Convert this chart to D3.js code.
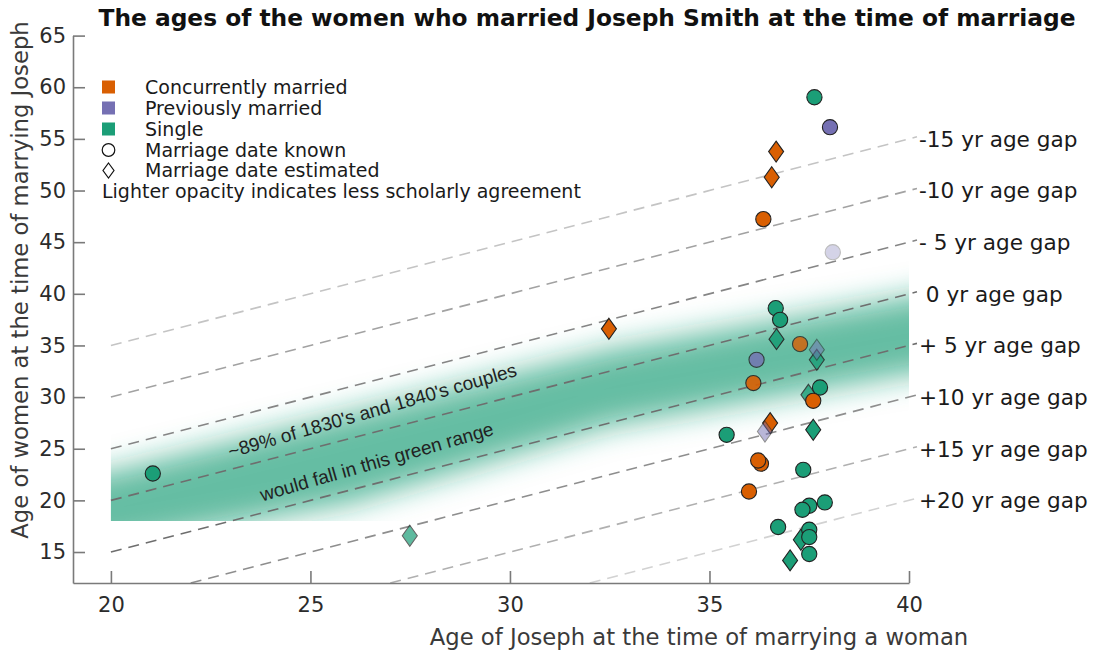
<!DOCTYPE html>
<html>
<head>
<meta charset="utf-8">
<script src="https://cdn.jsdelivr.net/npm/d3@7"></script>
<style>
  html, body { margin: 0; padding: 0; background: #fff; }
  svg { display: block; }
</style>
</head>
<body>
<svg id="chart" width="1094" height="658"></svg>
<script>
// ---- data ----
const josephAge = [37.63, 38.02, 36.67, 36.56, 36.35, 38.09, 36.66, 36.77, 36.68, 37.27,
                   37.69, 37.69, 36.18, 36.10, 37.77, 37.48, 37.60, 36.52, 36.39, 37.60,
                   35.43, 36.29, 36.22, 37.35, 35.99, 37.89, 37.50, 37.33, 36.72, 37.50,
                   37.29, 37.50, 37.50, 37.02, 21.05, 32.48, 27.49];
const womanAge  = [59.03, 56.13, 53.77, 51.29, 47.23, 44.03, 38.61, 37.48, 35.61, 35.13,
                   33.61, 34.58, 33.61, 31.36, 30.93, 30.22, 29.64, 27.48, 26.67, 26.84,
                   26.35, 23.55, 23.86, 22.96, 20.86, 19.80, 19.48, 19.09, 17.42, 17.16,
                   16.19, 16.45, 14.81, 14.19, 22.60, 36.61, 16.58];
// C = concurrently married, P = previously married, S = single
const status    = ["S","P","C","C","C","P","S","S","S","C",
                   "S","P","P","C","S","S","C","C","P","S",
                   "S","C","C","S","C","S","S","S","S","S",
                   "S","S","S","S","S","C","S"];
// true = marriage date known (circle), false = estimated (diamond)
const dateKnown = [true,true,false,false,true,true,true,true,false,true,
                   false,false,true,true,true,false,true,false,false,false,
                   true,true,true,true,true,true,true,true,true,true,
                   false,true,true,false,true,false,false];
// scholarly agreement (opacity)
const agreement = [1,1,1,1,1,0.3,1,1,0.9,0.8,
                   0.8,0.5,0.8,0.9,1,0.8,1,1,0.5,1,
                   1,1,1,1,1,1,1,1,1,1,
                   1,1,1,1,1,1,0.7];

const gaps = [-15, -10, -5, 0, 5, 10, 15, 20];
const gapLabels = ["-15 yr age gap", "-10 yr age gap", "- 5 yr age gap", " 0 yr age gap",
                   "+ 5 yr age gap", "+10 yr age gap", "+15 yr age gap", "+20 yr age gap"];
const gapColors = ["#c4c4c4", "#a2a2a2", "#858585", "#6e6e6e", "#6e6e6e", "#8e8e8e", "#b0b0b0", "#d2d2d2"];

const xTicks = [20, 25, 30, 35, 40];
const yTicks = [15, 20, 25, 30, 35, 40, 45, 50, 55, 60, 65];

const bandTop = [[17, 20.5], [20, 22.8], [32.5, 34.6], [40, 39.7], [43, 41.8]];
const bandBottom = [[43, 33.6], [40, 32.2], [32.5, 27.2], [26, 19.7], [20, 15.5], [17, 13]];

const statusNames = ["Concurrently married", "Previously married", "Single"];
const statusKeys = ["C", "P", "S"];
const statusColors = {C: "#d95f02", P: "#7570b3", S: "#1b9e77"};

const title = "The ages of the women who married Joseph Smith at the time of marriage";
const xLabel = "Age of Joseph at the time of marrying a woman";
const yLabel = "Age of women at the time of marrying Joseph";
const bandText1 = "~89% of 1830's and 1840's couples";
const bandText2 = "would fall in this green range";

// ---- drawing ----
const svg = d3.select("#chart");
const x = d3.scaleLinear().domain([19.05, 40]).range([73, 909]);
const y = d3.scaleLinear().domain([12, 65]).range([583, 35.6]);

const defs = svg.append("defs");
const blur = defs.append("filter").attr("id", "blur")
  .attr("filterUnits", "userSpaceOnUse")
  .attr("x", 0).attr("y", 0).attr("width", 1094).attr("height", 658);
blur.append("feGaussianBlur").attr("stdDeviation", 15);
defs.append("clipPath").attr("id", "bandClip")
  .append("rect")
  .attr("x", x(20)).attr("y", y(65))
  .attr("width", x(40) - x(20)).attr("height", y(18) - y(65));

// green band
const bandPoly = bandTop.concat(bandBottom);
svg.append("g").attr("clip-path", "url(#bandClip)")
  .append("path")
  .attr("d", d3.line().x(d => x(d[0])).y(d => y(d[1]))(bandPoly) + "Z")
  .attr("fill", "#1b9e77")
  .attr("fill-opacity", 0.68)
  .attr("filter", "url(#blur)");

// gap lines
const gl = svg.append("g");
gaps.forEach((g, i) => {
  const x0 = Math.max(20, 12 + g);
  const x1 = 40.2;
  gl.append("line")
    .attr("x1", x(x0)).attr("y1", y(x0 - g))
    .attr("x2", x(x1)).attr("y2", y(x1 - g))
    .attr("stroke", gapColors[i])
    .attr("stroke-width", 1.6)
    .attr("stroke-dasharray", "11,7");
  gl.append("text")
    .attr("x", x(40) + 10)
    .attr("y", y(40 - g))
    .attr("dy", "0.36em")
    .style("white-space", "pre")
    .attr("font-family", "DejaVu Sans")
    .attr("font-size", 21.6)
    .attr("fill", "#1a1a1a")
    .text(gapLabels[i]);
});

// band texts
const bt = svg.append("g").attr("font-family", "Liberation Sans, Arial").attr("font-size", 19).attr("fill", "#222");
bt.append("text")
  .attr("transform", `translate(${x(26.55)},${y(28.7)}) rotate(-16)`)
  .attr("text-anchor", "middle").attr("dy", "0.35em").text(bandText1);
bt.append("text")
  .attr("transform", `translate(${x(26.66)},${y(23.75)}) rotate(-16)`)
  .attr("text-anchor", "middle").attr("dy", "0.35em").text(bandText2);

// axes
const xAxis = svg.append("g").attr("transform", `translate(0,${y(12)})`)
  .call(d3.axisBottom(x).tickValues(xTicks).tickSizeInner(-12).tickSizeOuter(0).tickPadding(14));
const yAxis = svg.append("g").attr("transform", `translate(${x(19.05)},0)`)
  .call(d3.axisLeft(y).tickValues(yTicks).tickSizeInner(-12).tickSizeOuter(0).tickPadding(7));
[xAxis, yAxis].forEach(a => {
  a.select(".domain").attr("stroke", "#7a7a7a").attr("stroke-width", 1.6);
  a.selectAll(".tick line").attr("stroke", "#7a7a7a").attr("stroke-width", 1.6);
  a.selectAll(".tick text").attr("font-family", "DejaVu Sans").attr("font-size", 21).attr("fill", "#2b2b2b");
});

// points (diamonds first, then circles)
const idx = d3.range(josephAge.length);
const order = idx.filter(i => !dateKnown[i]).concat(idx.filter(i => dateKnown[i]));
const diamond = "M0,-10.5L7.5,0L0,10.5L-7.5,0Z";
const pts = svg.append("g");
order.forEach(i => {
  const g = pts.append("g")
    .attr("transform", `translate(${x(josephAge[i])},${y(womanAge[i])})`)
    .attr("opacity", agreement[i]);
  if (dateKnown[i]) {
    g.append("circle").attr("r", 7.6);
  } else {
    g.append("path").attr("d", diamond);
  }
  g.select("*").attr("fill", statusColors[status[i]]).attr("stroke", "#222").attr("stroke-width", 1.1);
});

// legend
const lg = svg.append("g").attr("font-family", "DejaVu Sans").attr("font-size", 19).attr("fill", "#1a1a1a");
const rowY = [87, 108, 129, 150, 170.5, 191.5];
statusKeys.forEach((k, i) => {
  lg.append("rect").attr("x", 102).attr("y", rowY[i] - 6.5).attr("width", 13).attr("height", 13)
    .attr("fill", statusColors[k]);
  lg.append("text").attr("x", 145).attr("y", rowY[i]).attr("dy", "0.35em").text(statusNames[i]);
});
lg.append("circle").attr("cx", 108.5).attr("cy", rowY[3]).attr("r", 6.3)
  .attr("fill", "none").attr("stroke", "#111").attr("stroke-width", 1.2);
lg.append("text").attr("x", 145).attr("y", rowY[3]).attr("dy", "0.35em").text("Marriage date known");
lg.append("path").attr("transform", `translate(108.5,${rowY[4]})`).attr("d", "M0,-7.5L5.5,0L0,7.5L-5.5,0Z")
  .attr("fill", "none").attr("stroke", "#111").attr("stroke-width", 1.2);
lg.append("text").attr("x", 145).attr("y", rowY[4]).attr("dy", "0.35em").text("Marriage date estimated");
lg.append("text").attr("x", 102).attr("y", rowY[5]).attr("dy", "0.35em").text("Lighter opacity indicates less scholarly agreement");

// title and axis labels
svg.append("text").attr("x", 587).attr("y", 26).attr("text-anchor", "middle")
  .attr("font-family", "DejaVu Sans").attr("font-weight", "bold").attr("font-size", 22.5)
  .attr("textLength", 977).attr("lengthAdjust", "spacingAndGlyphs")
  .attr("fill", "#111").text(title);
svg.append("text").attr("x", 699).attr("y", 645).attr("text-anchor", "middle")
  .attr("font-family", "DejaVu Sans").attr("font-size", 22.7).attr("fill", "#3a3a3a").text(xLabel);
svg.append("text").attr("transform", "translate(28,280) rotate(-90)").attr("text-anchor", "middle")
  .attr("font-family", "DejaVu Sans").attr("font-size", 22.7).attr("fill", "#3a3a3a").text(yLabel);
</script>
</body>
</html>
